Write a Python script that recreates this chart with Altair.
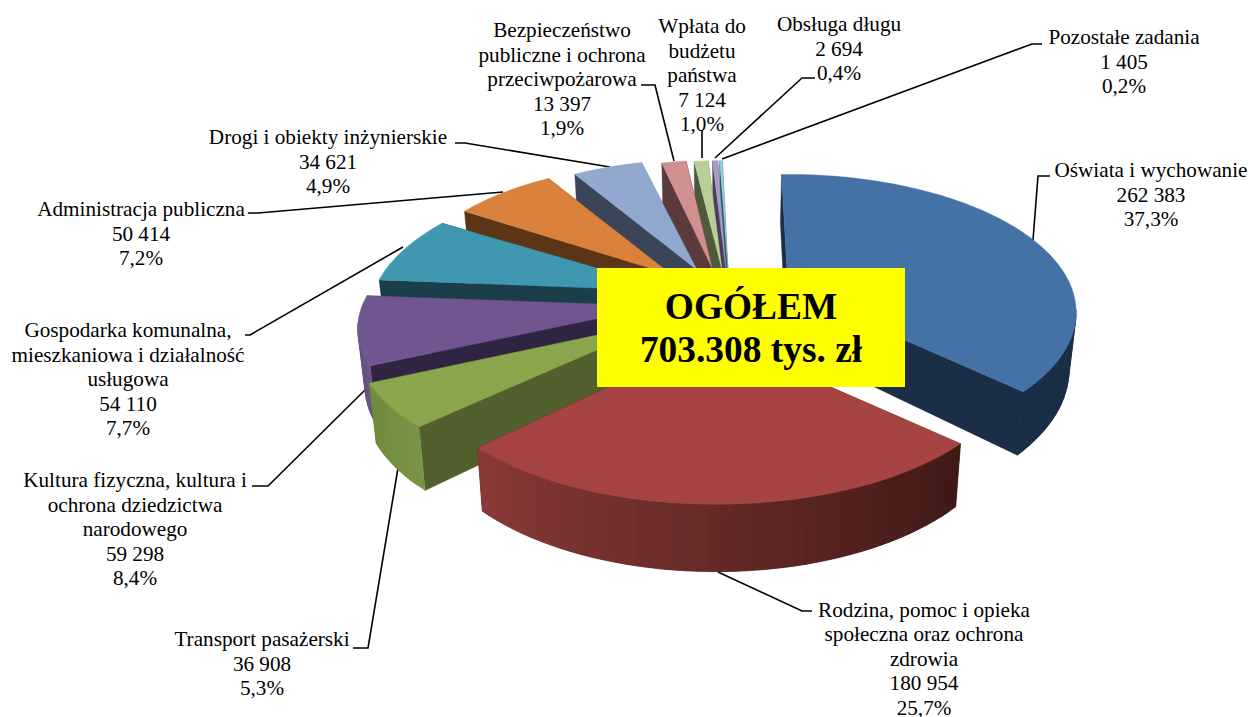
import math
import altair as alt
import pandas as pd

W, H = 1241, 709
FONT = "Liberation Serif"

names = ["Oświata i wychowanie", "Rodzina, pomoc i opieka\nspołeczna oraz ochrona\nzdrowia", "Transport pasażerski",
         "Kultura fizyczna, kultura i\nochrona dziedzictwa\nnarodowego", "Gospodarka komunalna,\nmieszkaniowa i działalność\nusługowa",
         "Administracja publiczna", "Drogi i obiekty inżynierskie", "Bezpieczeństwo\npubliczne i ochrona\nprzeciwpożarowa",
         "Wpłata do\nbudżetu\npaństwa", "Obsługa długu", "Pozostałe zadania"]
values = [262383, 180954, 36908, 59298, 54110, 50414, 34621, 13397, 7124, 2694, 1405]
value_labels = ["262 383", "180 954", "36 908", "59 298", "54 110", "50 414", "34 621", "13 397", "7 124", "2 694", "1 405"]
percents = ["37,3%", "25,7%", "5,3%", "8,4%", "7,7%", "7,2%", "4,9%", "1,9%", "1,0%", "0,4%", "0,2%"]

top_colors = ["#4472A6", "#A54442", "#8AA64C", "#70568F", "#3F97B0", "#DA823B", "#92A8CF", "#CF908F", "#BACF97", "#A99BC2", "#92CDDC"]
radial_colors = ["#1B2E47", "#41201C", "#52602D", "#2F2441", "#1A3F4A", "#5C3517", "#3A4658", "#5A3A3A", "#4F5A3C", "#4A3F5A", "#2C5566"]
outer_start = ["#1B2E47", "#3F1916", "#7A9546", "#6C5488", "#1A3F4A", "#5C3517", "#3A4658", "#5A3A3A", "#4F5A3C", "#4A3F5A", "#2C5566"]
outer_end = ["#1B2E47", "#8A3A38", "#6F8A3E", "#5F4A7A", "#1A3F4A", "#5C3517", "#3A4658", "#5A3A3A", "#4F5A3C", "#4A3F5A", "#2C5566"]

# Geometry of the tilted, exploded pie (page pixels)
apex_x = [788, 716, 664, 658, 676, 672, 697, 712, 722, 726, 728]
apex_y = [289, 337, 321, 306, 291, 275, 270, 268, 270, 270, 270]
radius_x = [284, 295, 303, 296, 302, 268, 265, 240, 258, 250, 250]
radius_y = [134, 139, 133, 128, 138, 130, 129, 126, 128, 128, 128]
PERSP = 0.169
DEPTH = 56
VX = 718
SHRINK = 0.98
START = -1.5
draw_order = [10, 9, 8, 7, 6, 5, 4, 3, 2, 0, 1]

total = sum(values)
edges = [START]
for v in values:
    edges.append(edges[-1] + v / total * 360)


def top(i, a):
    r = math.radians(a)
    p = 1 / (1 + PERSP * math.cos(r))
    return (apex_x[i] + radius_x[i] * math.sin(r) * p, apex_y[i] - radius_y[i] * math.cos(r) * p, p)


def low(pt):
    x, y, p = pt
    return (VX + (x - VX) * SHRINK, y + DEPTH * p, p)


def mix(c0, c1, t):
    a = [int(c0[j:j + 2], 16) for j in (1, 3, 5)]
    b = [int(c1[j:j + 2], 16) for j in (1, 3, 5)]
    return "#%02x%02x%02x" % tuple(round(u + (w - u) * t) for u, w in zip(a, b))


rows = []
pid = 0


def poly(pts, color):
    global pid
    pid += 1
    for n, pt in enumerate(list(pts) + [pts[0]]):
        rows.append({"pid": "p%05d" % pid, "n": n, "x": pt[0], "y": pt[1], "c": color})


for i in draw_order:
    a0, a1 = edges[i], edges[i + 1]
    apex = (apex_x[i], apex_y[i], 1.0)
    for a in (a0, a1):
        e = top(i, a)
        poly([apex, e, low(e), low(apex)], radial_colors[i])
    steps = max(2, int((a1 - a0) / 2))
    for s in range(steps):
        b0 = a0 + (a1 - a0) * s / steps
        b1 = a0 + (a1 - a0) * (s + 1) / steps
        q0, q1 = top(i, b0), top(i, b1)
        if q1[0] < q0[0]:
            # each strip reaches under the next one so that no seam shows
            b2 = min(a1, b1 + (b1 - b0))
            mid = top(i, b1)
            q2 = top(i, b2)
            poly([q0, mid, q2, low(q2), low(mid), low(q0)], mix(outer_start[i], outer_end[i], (s + .5) / steps))
    arc = [top(i, a0 + (a1 - a0) * s / max(steps * 2, 4)) for s in range(max(steps * 2, 4) + 1)]
    poly([apex] + arc, top_colors[i])

xs = alt.Scale(domain=[8, 8 + W], range=[0, W])
ys = alt.Scale(domain=[8, 8 + H], range=[0, H])
X = alt.X("x:Q", scale=xs, axis=None)
Y = alt.Y("y:Q", scale=ys, axis=None)

pie = alt.Chart(pd.DataFrame(rows)).mark_line(strokeWidth=0.4, strokeJoin="round", interpolate="linear").encode(
    x=X, y=Y, detail="pid:N", order="n:Q",
    fill=alt.Fill("c:N", scale=None), stroke=alt.Stroke("c:N", scale=None))

leaders = [
    [(1050, 176), (1038, 176), (1033, 240)],
    [(812, 611), (802, 611), (718, 572)],
    [(353, 648), (368, 648), (398, 468)],
    [(252, 486), (268, 486), (365, 390)],
    [(245, 335), (250, 335), (403, 247)],
    [(248, 213), (258, 213), (503, 192)],
    [(455, 143), (465, 143), (610, 167)],
    [(641, 85), (655, 85), (674, 161)],
    [(702, 130), (702, 158)],
    [(815, 78), (802, 78), (715, 158)],
    [(1042, 44), (1032, 44), (722, 159)],
]
lead_rows = [{"id": j, "n": n, "x": p[0], "y": p[1]} for j, l in enumerate(leaders) for n, p in enumerate(l)]
lead = alt.Chart(pd.DataFrame(lead_rows)).mark_line(color="black", strokeWidth=1.6).encode(x=X, y=Y, detail="id:N", order="n:Q")

label_x = [1151, 924, 262, 135, 128, 141, 328, 562, 702, 839, 1124]
label_y = [171, 610.5, 640, 481, 331, 210, 138, 31, 27, 25, 38]
LINE = 24.5
text_rows = []
for i in range(len(names)):
    lines = names[i].split("\n") + [value_labels[i], percents[i]]
    for n, t in enumerate(lines):
        text_rows.append({"x": label_x[i], "y": label_y[i] + n * LINE, "t": t})
labels = alt.Chart(pd.DataFrame(text_rows)).mark_text(font=FONT, fontSize=21.2, color="#000000", align="center", baseline="middle").encode(x=X, y=Y, text="t:N")

box = alt.Chart(pd.DataFrame([{"x": 597, "x2": 905, "y": 268, "y2": 387}])).mark_rect(color="#FFFF00").encode(x=X, x2="x2:Q", y=Y, y2="y2:Q")
title_rows = [{"x": 751, "y": 308, "t": "OGÓŁEM"}, {"x": 751, "y": 351, "t": "703.308 tys. zł"}]
title = alt.Chart(pd.DataFrame(title_rows)).mark_text(font=FONT, fontSize=37.4, fontWeight="bold", color="#000000", align="center", baseline="middle").encode(x=X, y=Y, text="t:N")

chart = alt.layer(lead, pie, box, title, labels).properties(width=W, height=H, padding=0).configure_view(stroke=None)
chart.save("out.html", embed_options={"renderer": "svg", "actions": False})
